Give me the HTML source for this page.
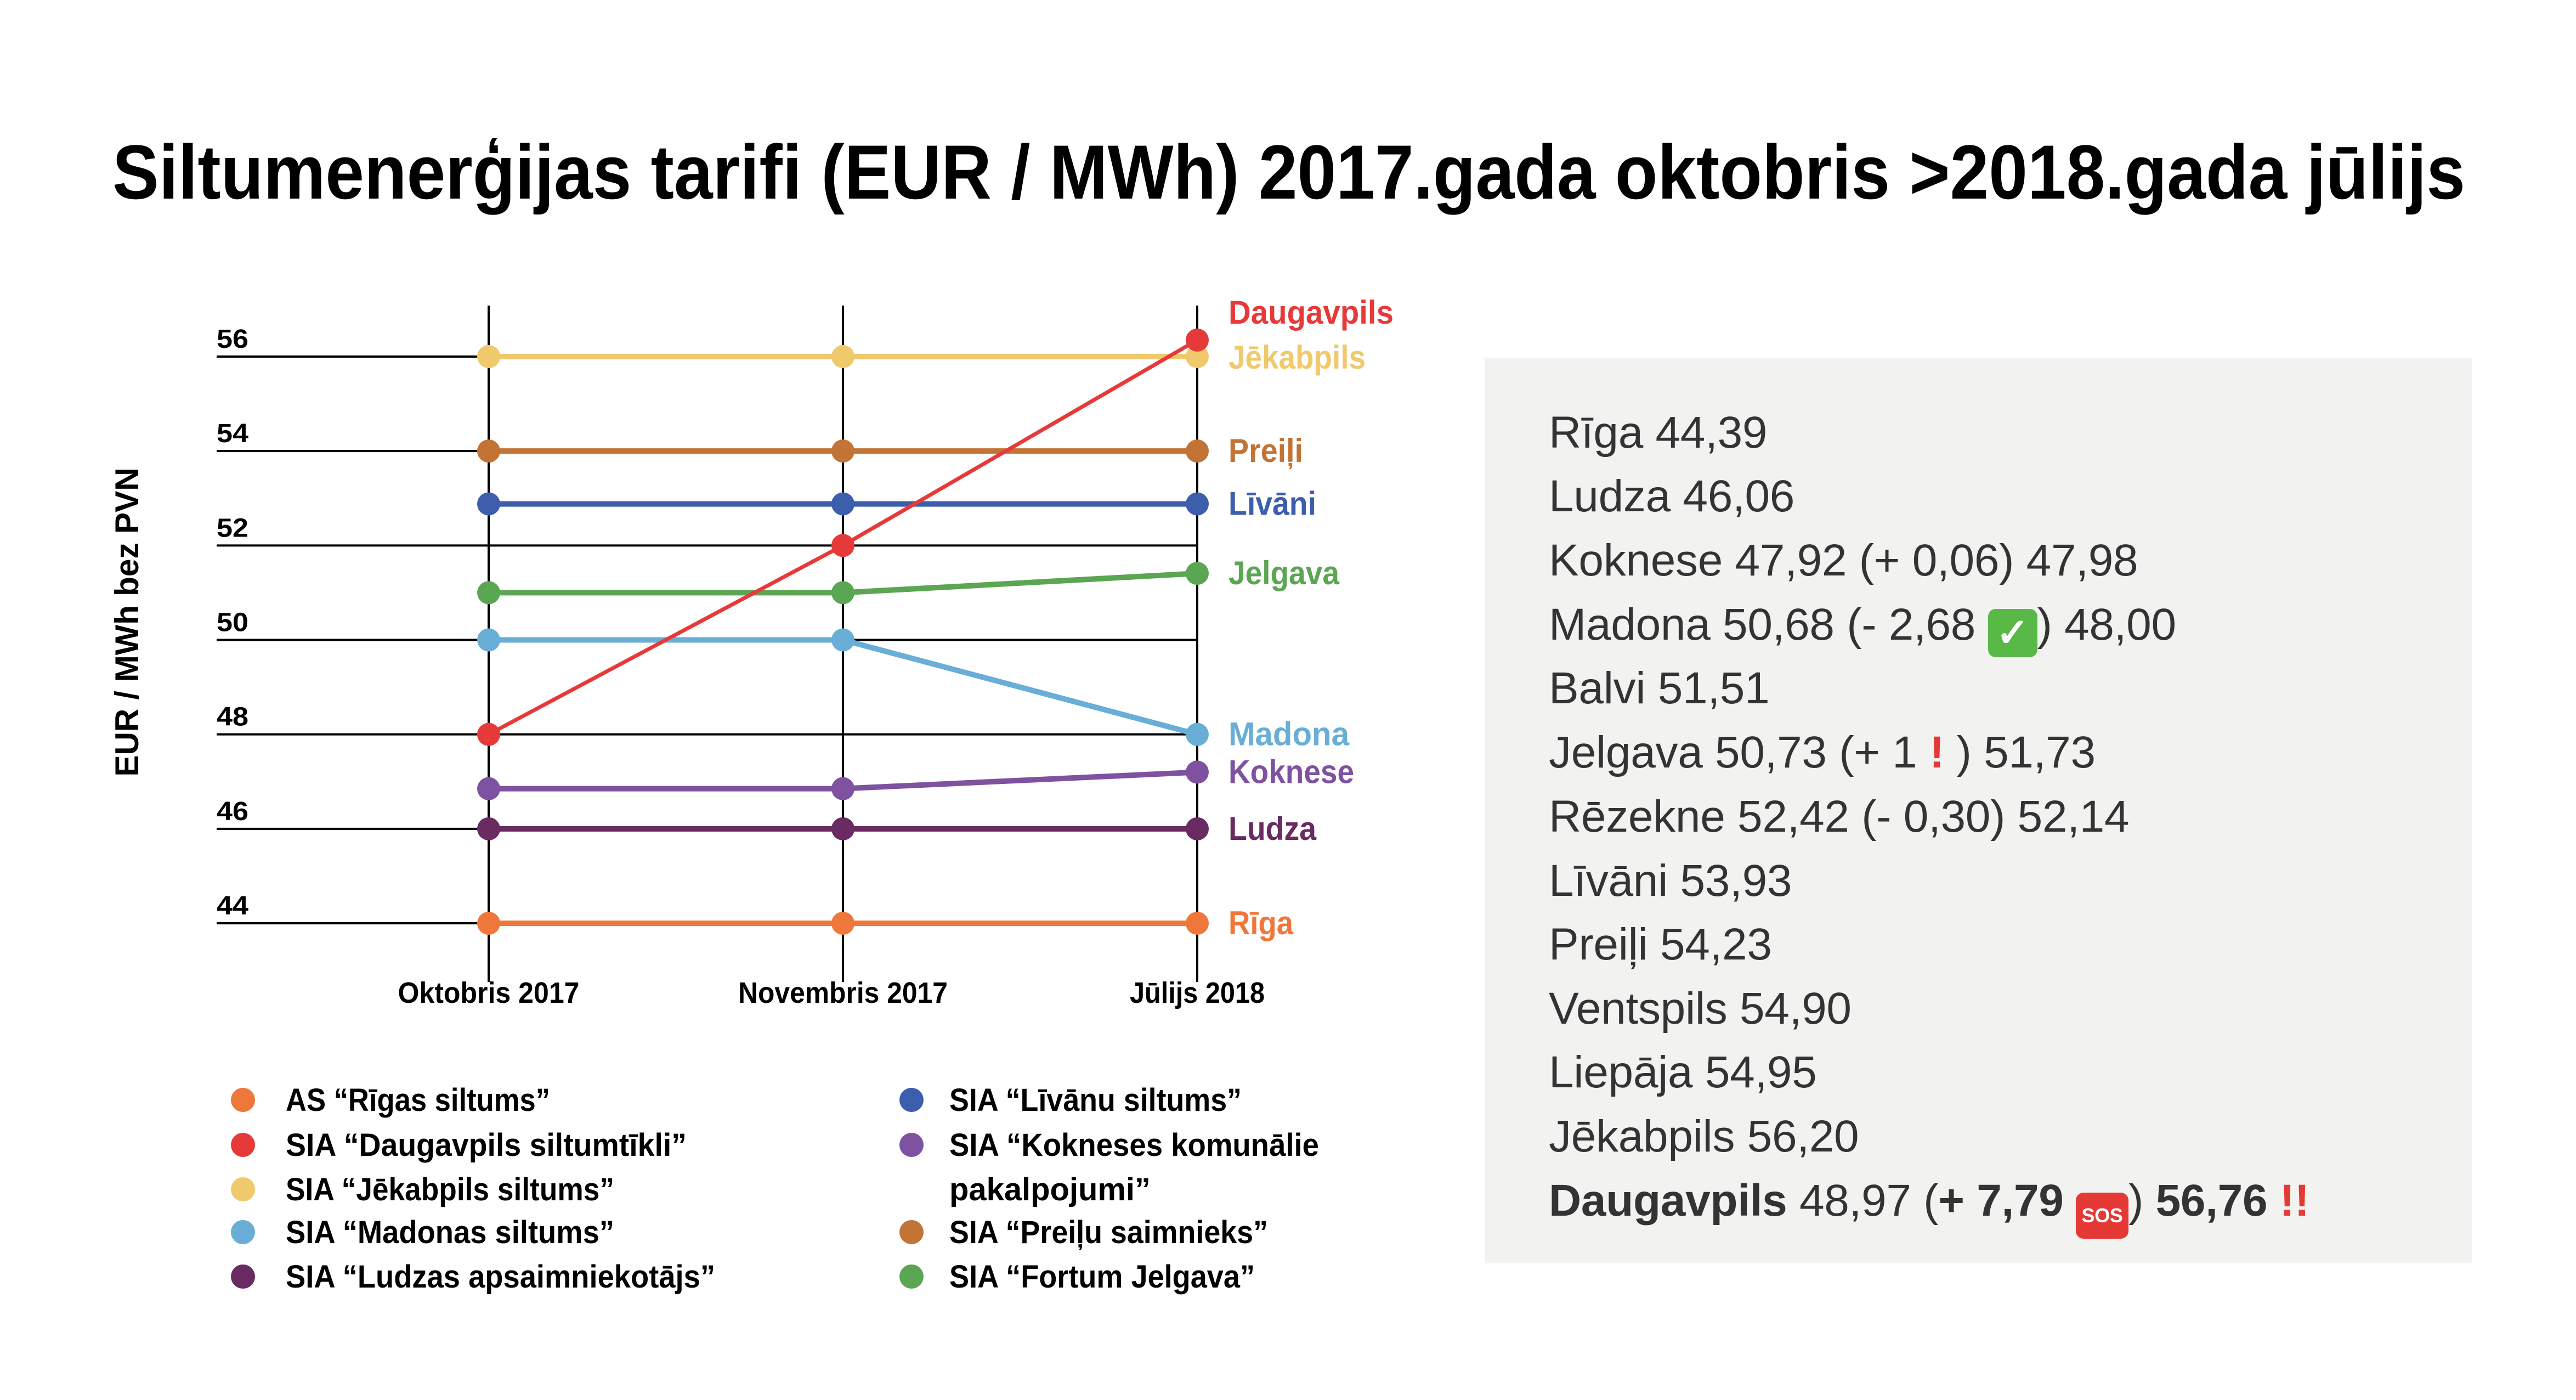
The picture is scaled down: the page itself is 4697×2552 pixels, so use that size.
<!DOCTYPE html>
<html><head><meta charset="utf-8">
<style>
html,body{margin:0;padding:0;background:#fff;}
body{width:4697px;height:2552px;position:relative;overflow:hidden;font-family:"Liberation Sans",sans-serif;}
#panel{position:absolute;left:2707px;top:653px;width:1800px;height:1650px;background:#f2f2f0;}
.row{position:absolute;left:117px;font-size:82px;color:#333;line-height:1;white-space:nowrap;letter-spacing:-0.3px;}
.chk{display:inline-block;width:90px;height:88px;background:#58b947;border-radius:14px;color:#fff;text-align:center;font-size:72px;line-height:88px;vertical-align:-12px;font-weight:bold;}
.sos{display:inline-block;width:96px;height:84px;background:#e53935;border-radius:14px;color:#fff;text-align:center;font-size:36px;line-height:84px;vertical-align:-12px;font-weight:bold;}
.ex{color:#e53935;font-weight:bold;}
</style></head><body>
<svg id="chart" width="4697" height="2552" style="position:absolute;left:0;top:0" xmlns="http://www.w3.org/2000/svg">
<text x="205" y="362" font-family="Liberation Sans" font-weight="bold" font-size="140" textLength="4290" lengthAdjust="spacingAndGlyphs">Siltumenerģijas tarifi (EUR / MWh) 2017.gada oktobris &gt;2018.gada jūlijs</text>
<text transform="translate(252,1134) rotate(-90)" text-anchor="middle" font-family="Liberation Sans" font-weight="bold" font-size="60" textLength="563" lengthAdjust="spacingAndGlyphs">EUR / MWh bez PVN</text>
<g id="grid"></g><g id="series"></g><g id="legend"></g>
</svg>
<div id="panel">
<div class="row" style="top:95px">Rīga 44,39</div>
<div class="row" style="top:211px">Ludza 46,06</div>
<div class="row" style="top:328px">Koknese 47,92 (+ 0,06) 47,98</div>
<div class="row" style="top:445px">Madona 50,68 (- 2,68 <span class="chk">✓</span>) 48,00</div>
<div class="row" style="top:561px">Balvi 51,51</div>
<div class="row" style="top:678px">Jelgava 50,73 (+ 1<span class="ex"> ! </span>) 51,73</div>
<div class="row" style="top:795px">Rēzekne 52,42 (- 0,30) 52,14</div>
<div class="row" style="top:912px">Līvāni 53,93</div>
<div class="row" style="top:1028px">Preiļi 54,23</div>
<div class="row" style="top:1145px">Ventspils 54,90</div>
<div class="row" style="top:1261px">Liepāja 54,95</div>
<div class="row" style="top:1378px">Jēkabpils 56,20</div>
<div class="row" style="top:1495px"><b>Daugavpils</b> 48,97 (<b>+ 7,79</b> <span class="sos">SOS</span>) <b>56,76</b> <span class="ex">!!</span></div>
</div>
<script>
const categories = ["Oktobris 2017", "Novembris 2017", "Jūlijs 2018"];
const yTicks = [44, 46, 48, 50, 52, 54, 56];
const seriesNames = ["Jēkabpils", "Preiļi", "Līvāni", "Jelgava", "Madona", "Koknese", "Ludza", "Rīga", "Daugavpils"];
const seriesColors = ["#efc96c", "#c27436", "#3d5ead", "#5aa652", "#68aed6", "#7e52a0", "#6a2a62", "#f0773a", "#e63a3a"];
const valJekabpils = [56, 56, 56];
const valPreili = [54, 54, 54];
const valLivani = [52.88, 52.88, 52.88];
const valJelgava = [51, 51, 51.41];
const valMadona = [50, 50, 48];
const valKoknese = [46.85, 46.85, 47.2];
const valLudza = [46, 46, 46];
const valRiga = [44, 44, 44];
const valDaugavpils = [48, 52, 56.35];
const labelWidths = [250, 136, 160, 202, 220, 229, 160, 118, 301];
const legendLeft = ["AS “Rīgas siltums”", "SIA “Daugavpils siltumtīkli”", "SIA “Jēkabpils siltums”", "SIA “Madonas siltums”", "SIA “Ludzas apsaimniekotājs”"];
const legendLeftColors = ["#f0773a", "#e63a3a", "#efc96c", "#68aed6", "#6a2a62"];
const legendRight = ["SIA “Līvānu siltums”", "SIA “Kokneses komunālie", "pakalpojumi”", "SIA “Preiļu saimnieks”", "SIA “Fortum Jelgava”"];
const legendRightColors = ["#3d5ead", "#7e52a0", null, "#c27436", "#5aa652"];

const NS = "http://www.w3.org/2000/svg";
const xPos = [891, 1539, 2183];
function x(i){ return xPos[0] + i * (xPos[2]-xPos[0])/(categories.length-1); }
function y(v){ return 1683 - (v-44) * (1683-650)/12; }
function mk(tag, attrs, parent){ const e=document.createElementNS(NS,tag); for(const k in attrs) e.setAttribute(k, attrs[k]); parent.appendChild(e); return e; }
const grid=document.getElementById('grid'), ser=document.getElementById('series'), leg=document.getElementById('legend');

yTicks.forEach(t=>{
  const l=mk('line',{x1:395,x2:2183,y1:y(t),y2:y(t),stroke:'#000','stroke-width':4},grid);
  
  
  const tx=mk('text',{x:395,y:y(t)-16,'font-family':'Liberation Sans','font-weight':'bold','font-size':48,textLength:58,lengthAdjust:'spacingAndGlyphs'},grid);
  tx.textContent=t;
  
  
});
categories.forEach((c,i)=>{
  const l=mk('line',{x1:x(i),x2:x(i),y1:557,y2:1790,stroke:'#000','stroke-width':4},grid);
  
  
  const tx=mk('text',{x:x(i),y:1828,'text-anchor':'middle','font-family':'Liberation Sans','font-weight':'bold','font-size':54,textLength:[331,382,246][i],lengthAdjust:'spacingAndGlyphs'},grid);
  tx.textContent=c;
  
  
});
const allVals=[valJekabpils,valPreili,valLivani,valJelgava,valMadona,valKoknese,valLudza,valRiga,valDaugavpils];
allVals.forEach((vals,s)=>{
  const col=seriesColors[s];
  const g=mk('g',{},ser);
  
  
  const pl=mk('polyline',{points:vals.map((v,i)=>x(i)+','+y(v)).join(' '),fill:'none',stroke:col,'stroke-width':s===8?7:10},g);
  
  
  vals.forEach((v,i)=>{
    const c=mk('circle',{cx:x(i),cy:y(v),r:21,fill:col},g);
    
    
  });
  const last=vals[vals.length-1];
  let ly=y(last)+20;
  if(s===8) ly=y(last)-30;
  if(s===0) ly=y(last)+22;
  const tx=mk('text',{x:2240,y:ly,fill:col,'font-family':'Liberation Sans','font-weight':'bold','font-size':60,textLength:labelWidths[s],lengthAdjust:'spacingAndGlyphs'},g);
  tx.textContent=seriesNames[s];
  
  
});
const rows=[2005,2087,2168,2246,2327];
const lw=[482,731,599,599,783], rw=[533,674,367,581,557];
legendLeft.forEach((t,i)=>{
  const c=mk('circle',{cx:443,cy:rows[i],r:22,fill:legendLeftColors[i]},leg);
  
  
  const tx=mk('text',{x:521,y:rows[i]+20,'font-family':'Liberation Sans','font-weight':'bold','font-size':58,textLength:lw[i],lengthAdjust:'spacingAndGlyphs'},leg);
  tx.textContent=t;
  
  
});
legendRight.forEach((t,i)=>{
  if(legendRightColors[i]){
    const c=mk('circle',{cx:1662,cy:rows[i],r:22,fill:legendRightColors[i]},leg);
    
    
  }
  const tx=mk('text',{x:1731,y:rows[i]+20,'font-family':'Liberation Sans','font-weight':'bold','font-size':58,textLength:rw[i],lengthAdjust:'spacingAndGlyphs'},leg);
  tx.textContent=t;
  
  
});
</script>
</body></html>
